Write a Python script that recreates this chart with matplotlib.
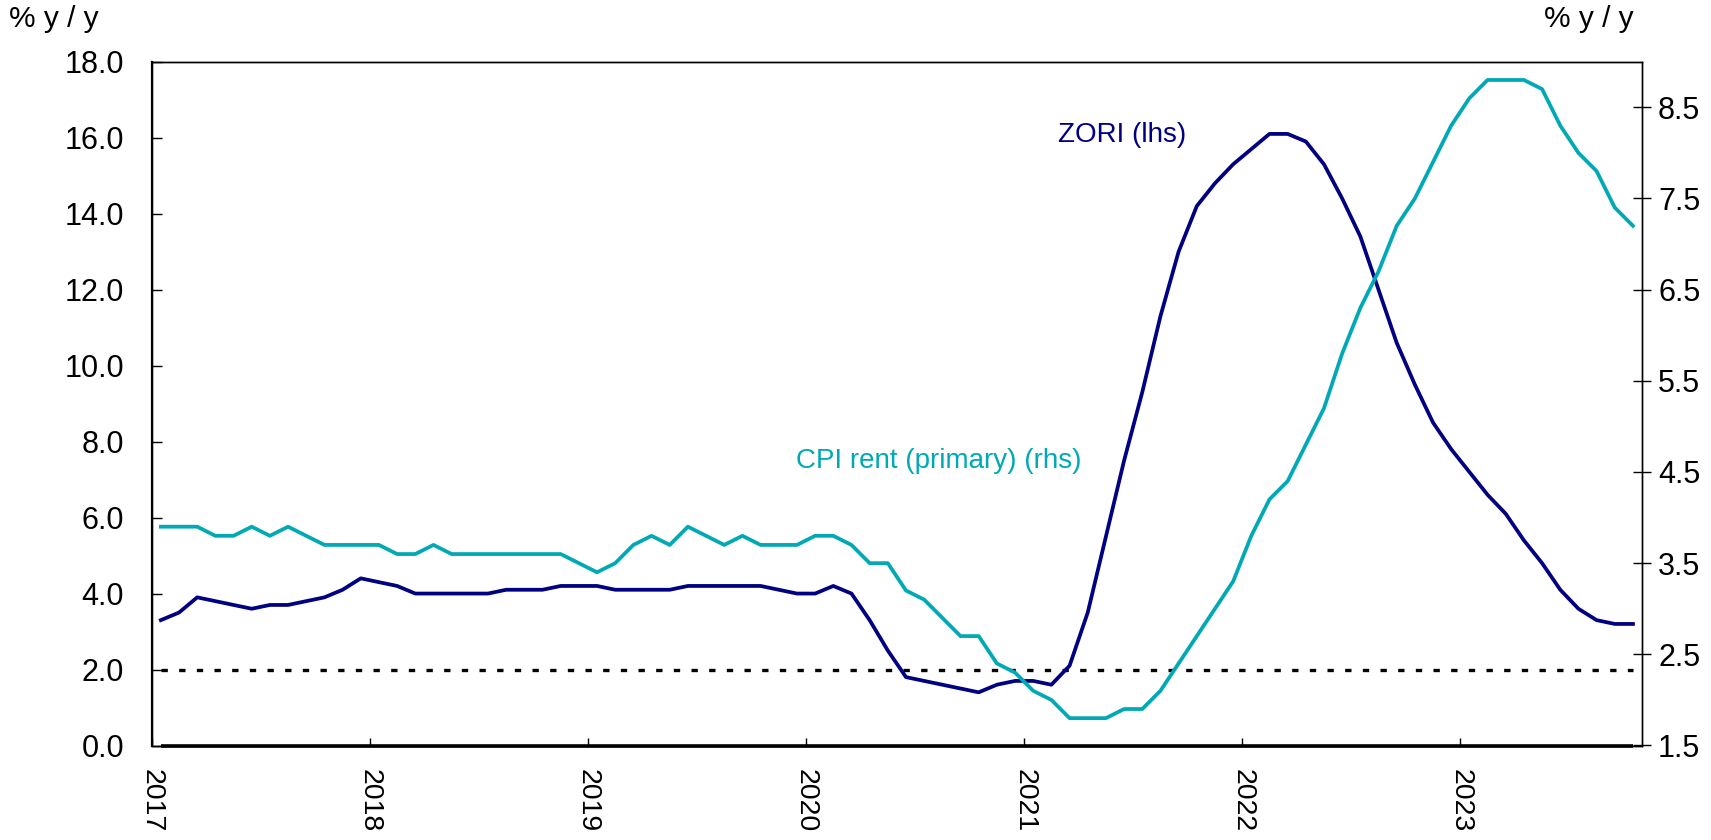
import matplotlib
matplotlib.use("Agg")
import matplotlib.pyplot as plt
import numpy as np

plt.rcParams['font.family'] = ['Liberation Sans', 'DejaVu Sans']

# Monthly data, Jan 2017 - Oct 2023
zori = [3.3, 3.5, 3.9, 3.8, 3.7, 3.6, 3.7, 3.7, 3.8, 3.9, 4.1, 4.4,
        4.3, 4.2, 4.0, 4.0, 4.0, 4.0, 4.0, 4.1, 4.1, 4.1, 4.2, 4.2,
        4.2, 4.1, 4.1, 4.1, 4.1, 4.2, 4.2, 4.2, 4.2, 4.2, 4.1, 4.0,
        4.0, 4.2, 4.0, 3.3, 2.5, 1.8, 1.7, 1.6, 1.5, 1.4, 1.6, 1.7,
        1.7, 1.6, 2.1, 3.5, 5.5, 7.5, 9.3, 11.3, 13.0, 14.2, 14.8, 15.3,
        15.7, 16.1, 16.1, 15.9, 15.3, 14.4, 13.4, 12.0, 10.6, 9.5, 8.5, 7.8,
        7.2, 6.6, 6.1, 5.4, 4.8, 4.1, 3.6, 3.3, 3.2, 3.2]
cpi_rent = [3.9, 3.9, 3.9, 3.8, 3.8, 3.9, 3.8, 3.9, 3.8, 3.7, 3.7, 3.7,
            3.7, 3.6, 3.6, 3.7, 3.6, 3.6, 3.6, 3.6, 3.6, 3.6, 3.6, 3.5,
            3.4, 3.5, 3.7, 3.8, 3.7, 3.9, 3.8, 3.7, 3.8, 3.7, 3.7, 3.7,
            3.8, 3.8, 3.7, 3.5, 3.5, 3.2, 3.1, 2.9, 2.7, 2.7, 2.4, 2.3,
            2.1, 2.0, 1.8, 1.8, 1.8, 1.9, 1.9, 2.1, 2.4, 2.7, 3.0, 3.3,
            3.8, 4.2, 4.4, 4.8, 5.2, 5.8, 6.3, 6.7, 7.2, 7.5, 7.9, 8.3,
            8.6, 8.8, 8.8, 8.8, 8.7, 8.3, 8.0, 7.8, 7.4, 7.2]
year_labels = ['2017', '2018', '2019', '2020', '2021', '2022', '2023']
left_ticks = [0, 2, 4, 6, 8, 10, 12, 14, 16, 18]
right_ticks = [1.5, 2.5, 3.5, 4.5, 5.5, 6.5, 7.5, 8.5]
target_line = 2.0

navy = '#000080'
teal = '#00A9B4'

n = len(zori)
x = np.arange(n) + 0.5

fig = plt.figure(figsize=(17.11, 8.40), dpi=100)
ax = fig.add_axes([0.0887, 0.1125, 0.8710, 0.8140])
ax2 = ax.twinx()

ax.set_xlim(0, n)
ax.set_ylim(0, 18)
ax2.set_ylim(1.5, 9.0)

# reference lines
ax.plot([x[0], x[-1]], [0, 0], color='black', lw=2.6, solid_capstyle='butt',
        clip_on=False, zorder=3)
ax.plot([x[0], x[-1]], [target_line, target_line], color='black', lw=2.4,
        dashes=(1.9, 3.4), zorder=2)

ax.plot(x, zori, color=navy, lw=2.7, zorder=4)
ax2.plot(x, cpi_rent, color=teal, lw=2.7, zorder=4)

ax.set_yticks(left_ticks)
ax.set_yticklabels([f'{v:.1f}' for v in left_ticks])
ax2.set_yticks(right_ticks)
ax2.set_yticklabels([f'{v:.1f}' for v in right_ticks])
ax.set_xticks(np.arange(len(year_labels)) * 12)
ax.set_xticklabels(year_labels, rotation=270, va='top', ha='center')

ax.tick_params(axis='y', direction='in', length=7, width=1, pad=20, labelsize=22)
ax.tick_params(axis='x', direction='in', length=6, width=1, pad=17, labelsize=20.5)
ax2.tick_params(axis='y', direction='inout', length=13, width=1, pad=5, labelsize=22)

for a in (ax, ax2):
    for s in a.spines.values():
        s.set_linewidth(1.0)
        s.set_color('black')
ax.spines['left'].set_linewidth(1.6)

ax.text(1058 / 1711, 1 - 135 / 840, 'ZORI (lhs)', transform=fig.transFigure,
        color=navy, fontsize=20, ha='left', va='center')
ax.text(796 / 1711, 1 - 461 / 840, 'CPI rent (primary) (rhs)', transform=fig.transFigure,
        color=teal, fontsize=20, ha='left', va='center')

fig.text(9 / 1711, 1 - 19 / 840, '% y / y', fontsize=21.5, ha='left', va='center')
fig.text(1634 / 1711, 1 - 19 / 840, '% y / y', fontsize=21.5, ha='right', va='center')

fig.savefig('out.png', dpi=100)
